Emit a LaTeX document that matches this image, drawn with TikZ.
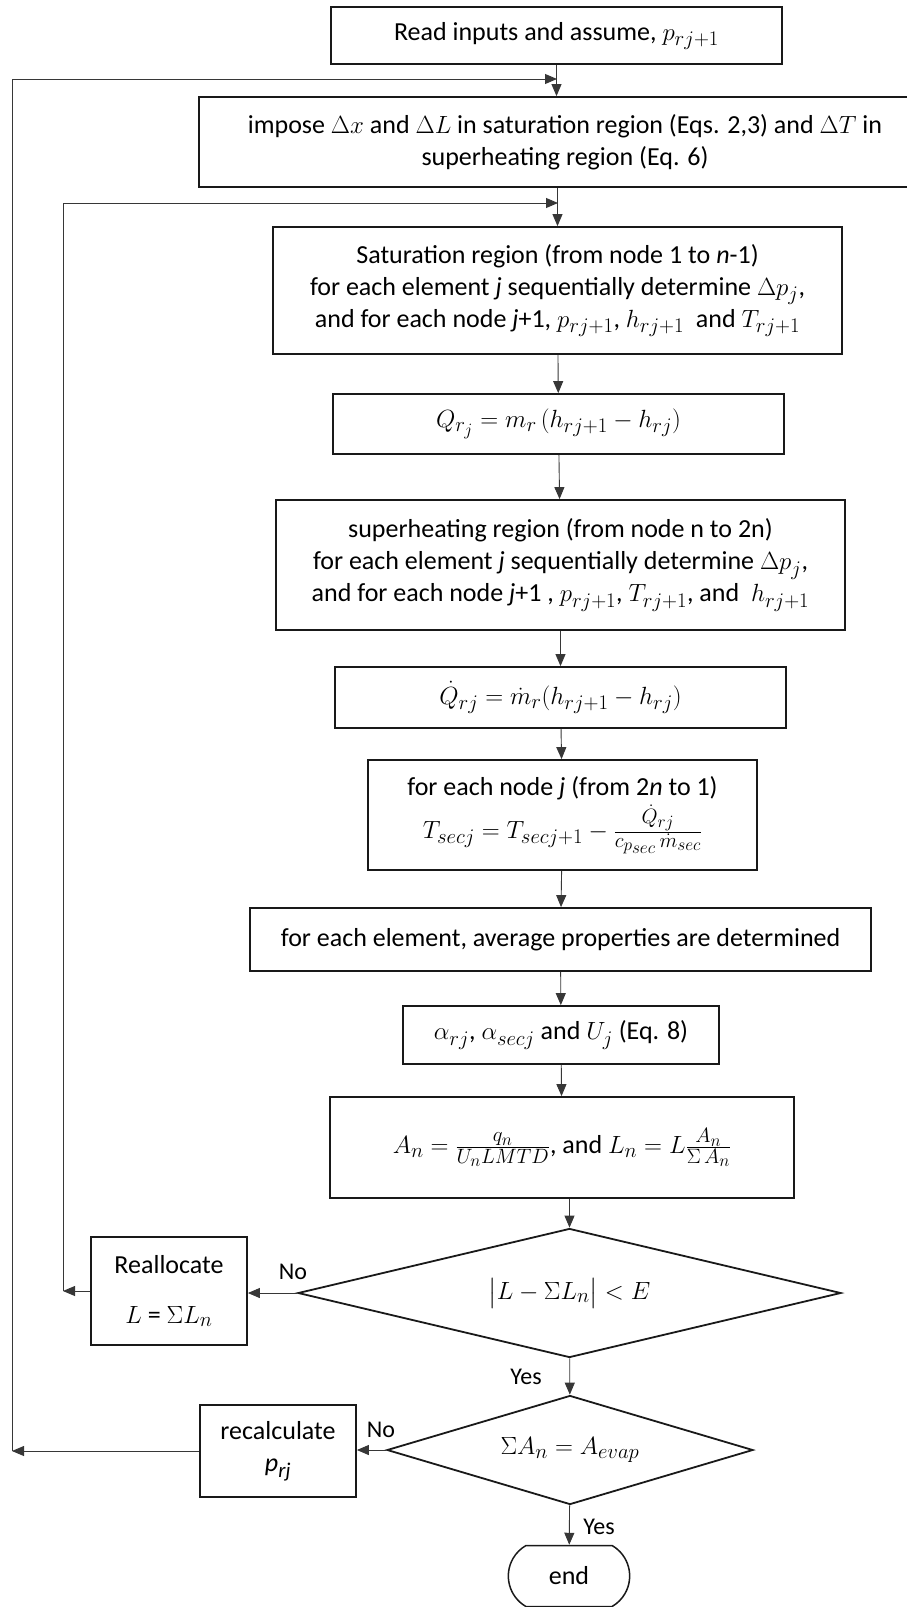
\documentclass[tikz,border=0pt]{standalone}
\usepackage{fontspec}
\setmainfont{Carlito}
\usepackage{amsmath}
\DeclareMathSizes{26}{30}{21}{16}
\usetikzlibrary{arrows.meta,positioning,shapes.geometric,shapes.misc}
\definecolor{ink}{RGB}{25,25,25}
\definecolor{wire}{RGB}{55,55,55}
\tikzset{
  >={Triangle[length=12pt,width=10pt]},
  box/.style={draw=ink,line width=1.8pt,align=center,inner sep=2pt,
    font=\fontsize{26}{32}\selectfont},
  dec/.style={diamond,aspect=#1,draw=ink,line width=1.8pt,inner sep=0pt,
    font=\fontsize{26}{32}\selectfont},
  dec/.default=4,
  endbox/.style={rounded rectangle,rounded rectangle arc length=120,draw=ink,
    line width=1.5pt,font=\fontsize{26}{32}\selectfont},
  flow/.style={->,line width=0.9pt,draw=wire},
  lbl/.style={inner sep=0pt,font=\fontsize{24}{28}\selectfont},
}
\begin{document}
\begin{tikzpicture}[x=1pt,y=-1pt]
  \useasboundingbox (0,0) rectangle (906,1607);
  % main column
  \node[box,minimum width=451,minimum height=57] (read) at (556.5,35.5) {Read inputs and assume, $p_{rj+1}$};
  \node[box,minimum width=732,minimum height=90] (imp) at (565,142)
    {impose $\Delta x$ and $\Delta L$ in saturation region (Eqs. 2,3) and $\Delta T$ in\\ superheating region (Eq. 6)};
  \node[box,minimum width=569,minimum height=127] (sat) at (557.5,290.5)
    {Saturation region (from node 1 to \textit{n}-1)\\
     for each element \textit{j} sequentially determine $\Delta p_j$,\\
     and for each node \textit{j}+1, $p_{rj+1}$, $h_{rj+1}$\ \ and $T_{rj+1}$};
  \node[box,minimum width=451,minimum height=60] (qr) at (558.5,424) {$Q_{r_j} = m_r\,(h_{rj+1} - h_{rj})$};
  \node[box,minimum width=569,minimum height=130] (sup) at (560.5,565)
    {superheating region (from node n to 2n)\\
     for each element \textit{j} sequentially determine $\Delta p_j$,\\
     and for each node \textit{j}+1 , $p_{rj+1}$, $T_{rj+1}$, and\ \ $h_{rj+1}$};
  \node[box,minimum width=451,minimum height=61] (qdot) at (560.5,697.5) {$\dot{Q}_{rj} = \dot{m}_r(h_{rj+1} - h_{rj})$};
  \node[box,minimum width=389,minimum height=110] (tsec) at (562.5,815)
    {for each node \textit{j} (from 2\textit{n} to 1)\\[4pt]
     $T_{secj} = T_{secj+1} - \frac{\dot{Q}_{rj}}{c_{p_{sec}}\,\dot{m}_{sec}}$};
  \node[box,minimum width=621,minimum height=63] (avg) at (560.5,939.5) {for each element, average properties are determined};
  \node[box,minimum width=316,minimum height=58] (alpha) at (561,1035) {$\alpha_{rj}$, $\alpha_{secj}$ and $U_j$ (Eq. 8)};
  \node[box,minimum width=464,minimum height=101] (area) at (562,1147.5)
    {$A_n = \frac{q_n}{U_n LMTD}$, and $L_n = L\frac{A_n}{\Sigma\, A_n}$};
  \node[dec=4.2,minimum width=543,minimum height=129] (chkL) at (569.5,1293) {$\bigl|L - \Sigma L_n\bigr| < E$};
  \node[box,minimum width=156,minimum height=108] (realloc) at (169,1291) {Reallocate\\[18pt] $L$ = $\Sigma L_n$};
  \node[dec=3.4,minimum width=366,minimum height=109] (chkA) at (570,1450) {$\Sigma A_n = A_{evap}$};
  \node[box,minimum width=156,minimum height=92] (recalc) at (278,1451) {recalculate\\ \textit{p}\textsubscript{\textit{rj}}};
  \node[endbox,minimum width=128,minimum height=61] (end) at (569,1576) {end};
  % branch labels
  \node[lbl] (no1) at (293,1272) {No};
  \node[lbl] (no2) at (381,1430) {No};
  \node[lbl] (yes1) at (526,1377) {Yes};
  \node[lbl] (yes2) at (599,1527) {Yes};
  % connectors
  \draw[flow] (read.south) -- (read.south |- imp.north);
  \draw[flow] (imp.south -| sat.north) -- (sat.north);
  \draw[flow] (sat) -- (qr);
  \draw[flow] (qr) -- (sup);
  \draw[flow] (sup) -- (qdot);
  \draw[flow] (qdot) -- (tsec);
  \draw[flow] (tsec) -- (avg);
  \draw[flow] (avg) -- (alpha);
  \draw[flow] (alpha) -- (area);
  \draw[flow] (area.south -| chkL.north) -- (chkL.north);
  \draw[flow] (chkL) -- (chkA);
  \draw[flow] (chkA) -- (end);
  \draw[flow] (chkL.west) -- (chkL.west -| realloc.east);
  \draw[flow] (chkA.west) -- (chkA.west -| recalc.east);
  % loops back
  \coordinate (lp1) at (12,1451);
  \coordinate (jn1) at (557,79);
  \coordinate (lp2) at (63,1291);
  \coordinate (jn2) at (558,203);
  \draw[flow] (recalc.west) -- (lp1);
  \draw[flow] (lp1) |- (jn1);
  \draw[flow] (realloc.west) -- (lp2);
  \draw[flow] (lp2) |- (jn2);
\end{tikzpicture}
\end{document}
